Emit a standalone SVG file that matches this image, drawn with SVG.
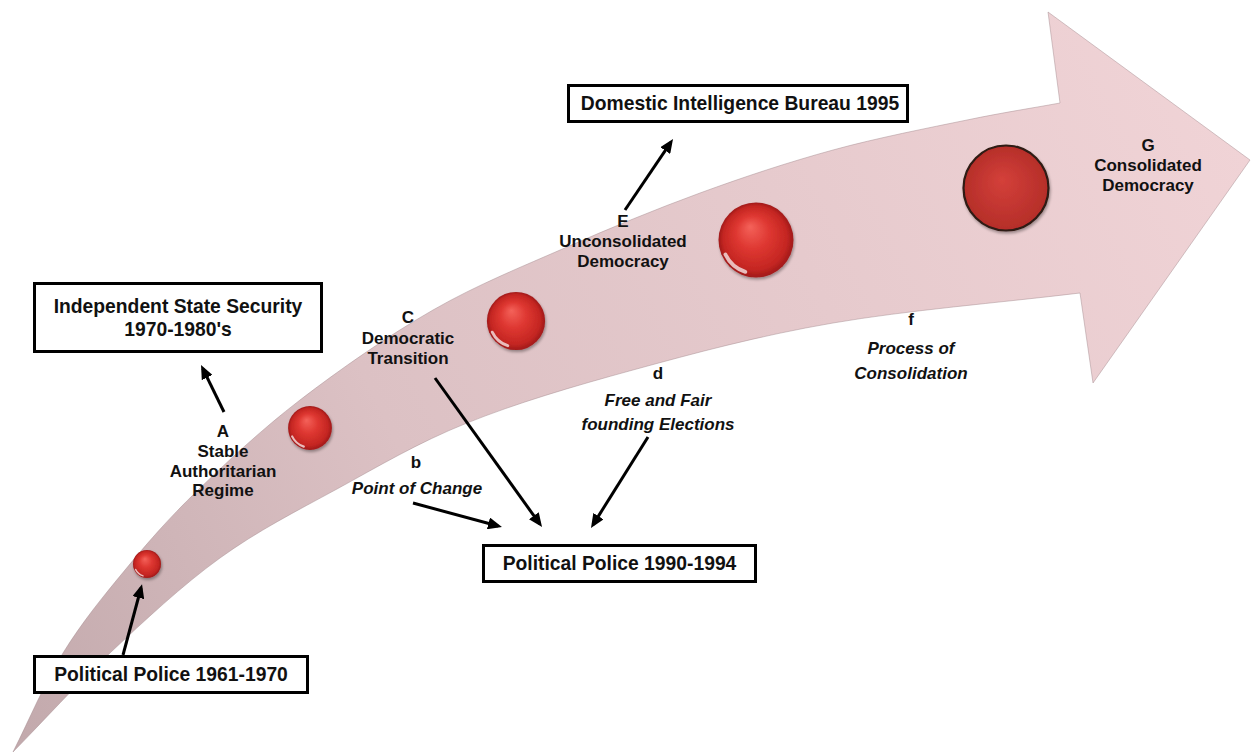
<svg xmlns="http://www.w3.org/2000/svg" width="1253" height="753" viewBox="0 0 1253 753">
<style>
.bx rect{fill:#fff;stroke:#000;stroke-width:3}
.bx text{font-family:"Liberation Sans",Arial,sans-serif;font-weight:bold;font-size:19.3px;fill:#111;text-anchor:middle}
.lbl{font-family:"Liberation Sans",Arial,sans-serif;font-weight:bold;font-size:17px;fill:#111;text-anchor:middle}
.it{font-style:italic;font-size:17px}
.con line{stroke:#000;stroke-width:3;marker-end:url(#ah)}
</style>
<defs>
<linearGradient id="band" gradientUnits="userSpaceOnUse" x1="13" y1="752" x2="1250" y2="160">
<stop offset="0" stop-color="#c2a9ac"/>
<stop offset="0.35" stop-color="#dcc1c4"/>
<stop offset="1" stop-color="#f0d3d6"/>
</linearGradient>
<radialGradient id="sg" cx="0.5" cy="0.5" r="0.5" fx="0.42" fy="0.32">
<stop offset="0" stop-color="#f4625a"/>
<stop offset="0.45" stop-color="#de3731"/>
<stop offset="0.85" stop-color="#c42622"/>
<stop offset="1" stop-color="#a01919"/>
</radialGradient>
<radialGradient id="sg5" cx="0.5" cy="0.5" r="0.5" fx="0.45" fy="0.4">
<stop offset="0" stop-color="#d4403a"/>
<stop offset="1" stop-color="#b52e29"/>
</radialGradient>
<filter id="sh" x="-30%" y="-30%" width="160%" height="160%">
<feGaussianBlur in="SourceAlpha" stdDeviation="1.5"/>
<feOffset dx="1" dy="2"/>
<feComponentTransfer><feFuncA type="linear" slope="0.35"/></feComponentTransfer>
<feMerge><feMergeNode/><feMergeNode in="SourceGraphic"/></feMerge>
</filter>
<g id="sphere">
<circle r="30" fill="url(#sg)"/>
<path d="M-8.5,25.5 A27,27 0 0 1 -24.5,11.5" fill="none" stroke="#fff" stroke-width="3" stroke-linecap="round" opacity="0.7"/>
</g>
<marker id="ah" markerUnits="userSpaceOnUse" markerWidth="14" markerHeight="12" viewBox="0 0 14 12" refX="10" refY="6" orient="auto">
<path d="M0,0 L14,6 L0,12 z" fill="#000"/>
</marker>
</defs>

<path id="bigArrow" fill="url(#band)" stroke="#a48c8f" stroke-opacity="0.6" stroke-width="0.8" d="M13,752 C29.7,719 44.3,683.3 63,653 C81.7,622.7 102.7,597 125,570 C147.3,543 167.8,519.3 197,491 C226.2,462.7 260.7,430.2 300,400 C339.3,369.8 388.5,335.5 433,310 C477.5,284.5 522.5,266.5 567,247 C611.5,227.5 655.7,209.2 700,193 C744.3,176.8 788.5,162.2 833,150 C877.5,137.8 929.2,127.8 967,120 C1004.8,112.2 1029,108.7 1060,103 L1048,12 L1250,160 L1093,383 L1080,293 C997.7,303 907.5,310.2 833,323 C758.5,335.8 694,353.3 633,370 C572,386.7 516.3,403.2 467,423 C417.7,442.8 378.2,466.5 337,489 C295.8,511.5 257.8,530.7 220,558 C182.2,585.3 144.5,620.7 110,653 C75.5,685.3 45.3,719 13,752 Z"/>

<g id="spheres">
<g filter="url(#sh)"><use href="#sphere" transform="translate(147,564) scale(0.467)"/></g>
<g filter="url(#sh)"><use href="#sphere" transform="translate(310,428) scale(0.73)"/></g>
<g filter="url(#sh)"><use href="#sphere" transform="translate(516,321) scale(0.97)"/></g>
<g filter="url(#sh)"><use href="#sphere" transform="translate(756,240) scale(1.25)"/></g>
<circle cx="1006" cy="188" r="42.5" fill="url(#sg5)" stroke="#2e1a12" stroke-width="2.2" filter="url(#sh)"/>
</g>

<g class="con" id="connectors">
<line x1="123" y1="655" x2="141" y2="588"/>
<line x1="224" y1="412" x2="202.8" y2="368.6"/>
<line x1="435" y1="378" x2="539.7" y2="523.8"/>
<line x1="413" y1="503" x2="498.1" y2="526"/>
<line x1="648" y1="437" x2="593.1" y2="524.6"/>
<line x1="625" y1="210" x2="670.8" y2="142.3"/>
</g>

<g id="box-independent" class="bx">
<rect x="34.5" y="283.5" width="287" height="68"/>
<text x="178" y="313">Independent State Security</text>
<text x="178" y="336">1970-1980's</text>
</g>
<g id="box-pp1961" class="bx">
<rect x="34.5" y="656.5" width="273" height="36"/>
<text x="171" y="681">Political Police 1961-1970</text>
</g>
<g id="box-pp1990" class="bx">
<rect x="483.5" y="545.5" width="272" height="36"/>
<text x="619.5" y="570">Political Police 1990-1994</text>
</g>
<g id="box-dib" class="bx">
<rect x="568.5" y="85.5" width="339" height="36"/>
<text x="740" y="110">Domestic Intelligence Bureau 1995</text>
</g>

<g id="label-A">
<text class="lbl" x="223" y="437">A</text>
<text class="lbl" x="223" y="457">Stable</text>
<text class="lbl" x="223" y="477">Authoritarian</text>
<text class="lbl" x="223" y="496">Regime</text>
</g>
<g id="label-b">
<text class="lbl" x="416" y="468">b</text>
<text class="lbl it" x="417" y="494">Point of Change</text>
</g>
<g id="label-C">
<text class="lbl" x="408" y="323">C</text>
<text class="lbl" x="408" y="344">Democratic</text>
<text class="lbl" x="408" y="364">Transition</text>
</g>
<g id="label-E">
<text class="lbl" x="623" y="227">E</text>
<text class="lbl" x="623" y="247">Unconsolidated</text>
<text class="lbl" x="623" y="267">Democracy</text>
</g>
<g id="label-d">
<text class="lbl" x="658" y="379">d</text>
<text class="lbl it" x="658" y="406">Free and Fair</text>
<text class="lbl it" x="658" y="430">founding Elections</text>
</g>
<g id="label-f">
<text class="lbl" x="911" y="325">f</text>
<text class="lbl it" x="911" y="354">Process of</text>
<text class="lbl it" x="911" y="379">Consolidation</text>
</g>
<g id="label-G">
<text class="lbl" x="1148" y="151">G</text>
<text class="lbl" x="1148" y="171">Consolidated</text>
<text class="lbl" x="1148" y="191">Democracy</text>
</g>
</svg>
